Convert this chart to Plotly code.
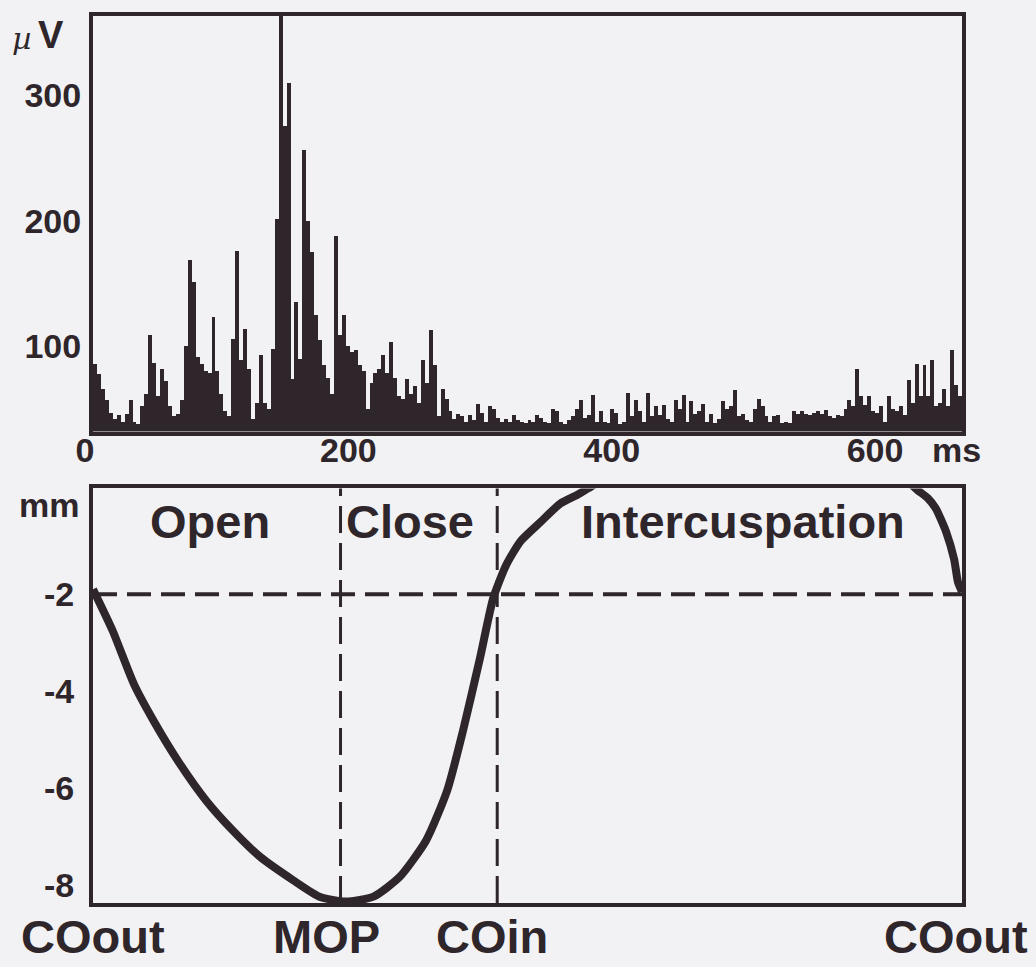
import numpy as np
import plotly.graph_objects as go

INK = "#2e262a"
BG = "#f2f2f4"
FONT = "Liberation Sans, Arial, Helvetica, sans-serif"

# ---- EMG amplitude (µV), 3 ms bins from 0 to 660 ms ----
bin_ms = 3
emg_uv = [
    86, 78, 66, 57, 47, 42, 45, 40, 46, 57, 40, 38, 52, 62, 109, 87, 60, 82, 72, 52, 44, 46,
    57, 100, 169, 151, 91, 86, 80, 79, 123, 80, 62, 48, 44, 106, 176, 89, 114, 82, 42, 55,
    93, 55, 50, 98, 201, 380, 275, 310, 74, 135, 90, 256, 200, 175, 125, 105, 85, 75, 62, 188,
    109, 125, 100, 95, 97, 85, 80, 50, 71, 79, 82, 93, 79, 103, 75, 60, 58, 74, 62, 68,
    55, 89, 71, 113, 85, 44, 66, 58, 48, 42, 46, 44, 40, 45, 41, 54, 47, 40, 52, 50,
    43, 40, 42, 40, 45, 41, 40, 39, 41, 40, 45, 43, 40, 39, 50, 48, 40, 38, 41, 44,
    50, 57, 43, 45, 61, 40, 48, 40, 39, 50, 47, 38, 40, 63, 44, 57, 48, 40, 63, 44,
    52, 45, 53, 42, 40, 57, 50, 61, 40, 56, 46, 48, 54, 40, 46, 39, 42, 56, 50, 52,
    65, 44, 46, 41, 40, 50, 58, 52, 44, 40, 44, 45, 39, 40, 39, 48, 46, 48, 46, 45,
    47, 48, 46, 49, 44, 43, 45, 44, 50, 57, 52, 82, 60, 53, 60, 48, 47, 52, 40, 60,
    50, 48, 52, 45, 73, 55, 86, 60, 85, 60, 89, 52, 55, 66, 52, 97, 69, 60,
]
emg_t = np.arange(len(emg_uv)) * bin_ms + bin_ms / 2

# ---- incisal point vertical displacement (mm) over one chewing cycle ----
# during intercuspation the trace runs above the top of the frame and is clipped
jaw_t = [0, 15, 31, 46, 66, 86, 106, 127, 152, 172, 192, 213, 233, 253, 269, 281, 294,
         304, 314, 325, 340, 355, 368, 376, 390, 420, 500, 580, 610, 620, 626, 634, 640,
         648, 654, 657, 660]
jaw_mm = [-1.9, -2.76, -3.85, -4.61, -5.5, -6.26, -6.87, -7.42, -7.9, -8.24, -8.34, -8.24,
          -7.83, -7.08, -6.05, -4.82, -3.31, -2.08, -1.39, -0.9, -0.51, -0.13, 0.05, 0.18,
          0.4, 0.6, 0.6, 0.6, 0.5, 0.3, 0.15, -0.02, -0.23, -0.72, -1.28, -1.76, -1.95]

# phase events (ms)
events_t = [0, 188, 307, 660]
events_lbl = ["COout", "MOP", "COin", "COout"]
events_shift = [0, -14, -5, -6]
phases = [("Open", 89), ("Close", 241), ("Intercuspation", 494)]

ms_ticks = [0, 200, 400, 600]
uv_ticks = [100, 200, 300]
mm_ticks = [-2, -4, -6, -8]

fig = go.Figure()
fig.add_trace(go.Bar(x=emg_t, y=emg_uv, width=bin_ms, marker=dict(color=INK, line=dict(width=0)),
                     xaxis="x", yaxis="y", showlegend=False))
fig.add_trace(go.Scatter(x=jaw_t, y=jaw_mm, mode="lines",
                         line=dict(color=INK, width=8, shape="spline", smoothing=0.6),
                         xaxis="x2", yaxis="y2", showlegend=False))

tick_font = dict(family=FONT, size=34, color=INK, weight="bold")
frame = dict(showline=True, linewidth=4, linecolor=INK, mirror=True, showgrid=False, zeroline=False, ticks="")

fig.update_layout(
    width=1036, height=967,
    margin=dict(l=93, r=74, t=13, b=64),
    paper_bgcolor=BG, plot_bgcolor=BG,
    bargap=0,
    xaxis=dict(domain=[0, 1], range=[0, 660], tickvals=ms_ticks, ticktext=[str(v) for v in ms_ticks],
               tickfont=tick_font, ticklabelstandoff=-14, ticklabelshift=-8, anchor="y", **frame),
    yaxis=dict(domain=[0.5315, 1], range=[32, 363], tickvals=uv_ticks, ticktext=[str(v) for v in uv_ticks],
               tickfont=tick_font, ticklabelstandoff=1, anchor="x", **frame),
    xaxis2=dict(domain=[0, 1], range=[0, 660], showticklabels=False, anchor="y2", **frame),
    yaxis2=dict(domain=[0, 0.4674], range=[-8.37, 0.18], tickvals=mm_ticks,
                ticktext=[f"-{abs(v)}" for v in mm_ticks],
                tickfont=tick_font, ticklabelstandoff=8, anchor="x2", **frame),
)

dash = dict(color=INK, width=4, dash="24px,10px")
fig.add_shape(type="line", xref="x2", yref="y2", x0=0, x1=662, y0=-2, y1=-2, line=dash)
for t in events_t[1:3]:
    fig.add_shape(type="line", xref="x2", yref="y2 domain", x0=t, x1=t, y0=0, y1=1,
                  line=dict(color=INK, width=3, dash="27px,10px"))

big = dict(family=FONT, size=47, color=INK, weight="bold")
for name, t in phases:
    fig.add_annotation(x=t, y=-0.5, xref="x2", yref="y2", text=name, showarrow=False,
                       font=big, xanchor="center", yanchor="middle")
for t, lbl, sh in zip(events_t, events_lbl, events_shift):
    fig.add_annotation(x=t, y=0, xref="x2", yref="paper", text=lbl, showarrow=False, font=big,
                       xanchor="center", yanchor="top", yshift=-6, xshift=sh, borderpad=0)

small = dict(family=FONT, size=34, color=INK, weight="bold")
fig.add_annotation(x=0.994, y=0.511, xref="paper", yref="paper", text="ms", showarrow=False,
                   font=small, xanchor="center", yanchor="middle")
fig.add_annotation(x=-0.0506, y=0.449, xref="paper", yref="paper", text="mm", showarrow=False,
                   font=small, xanchor="center", yanchor="middle")
fig.add_annotation(x=-0.0817, y=0.975, xref="paper", yref="paper", text="µ", showarrow=False,
                   font=dict(family="DejaVu Serif, serif", size=30, color=INK, style="italic"),
                   xanchor="center", yanchor="middle")
fig.add_annotation(x=-0.048, y=0.979, xref="paper", yref="paper", text="V", showarrow=False,
                   font=dict(family=FONT, size=38, color=INK, weight="bold"),
                   xanchor="center", yanchor="middle")

fig.write_html("out.html")
